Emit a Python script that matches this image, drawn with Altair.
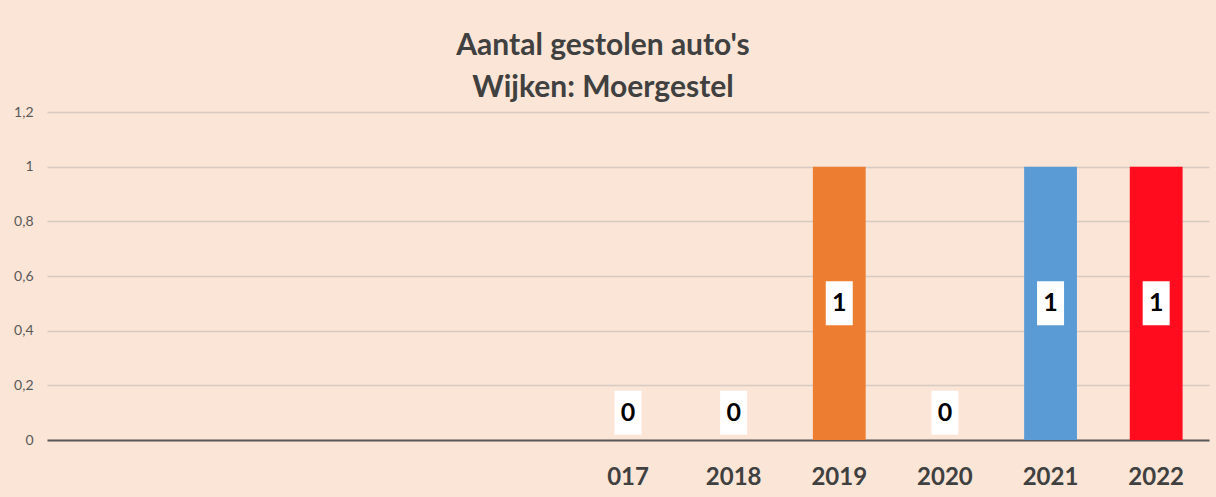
import altair as alt
import pandas as pd

years = ["2012", "2013", "2014", "2015", "2016", "2017", "2018", "2019", "2020", "2021", "2022"]
values = [None, None, None, None, None, 0, 0, 1, 0, 1, 1]
bar_colors = ["#ED7D31", "#ED7D31", "#ED7D31", "#ED7D31", "#ED7D31", "#ED7D31",
              "#ED7D31", "#ED7D31", "#5B9BD5", "#5B9BD5", "#FF0D1F"]
y_ticks = [0, 0.2, 0.4, 0.6, 0.8, 1.0, 1.2]
title_lines = ["Aantal gestolen auto's", "Wijken: Moergestel"]

df = pd.DataFrame({"jaar": years, "aantal": values})

x_enc = alt.X(
    "jaar:N",
    sort=years,
    scale=alt.Scale(domain=years, paddingInner=0.5, paddingOuter=0.25),
    axis=alt.Axis(
        title=None,
        labelExpr="datum.value == '2017' ? '017' : (toNumber(datum.value) < 2017 ? '' : datum.value)",
        labelFont="Lato",
        labelFontWeight="bold",
        labelFontSize=24,
        labelColor="#404040",
        labelPadding=25,
        labelAngle=0,
        ticks=False,
        domainColor="#595959",
        domainWidth=2,
        grid=False,
    ),
)

y_scale = alt.Scale(domain=[0, 1.2], nice=False)

base = alt.Chart(df).encode(x=x_enc)

bars = base.mark_bar().encode(
    y=alt.Y(
        "aantal:Q",
        scale=y_scale,
        axis=alt.Axis(
            title=None,
            values=y_ticks,
            labelExpr="replace(format(datum.value, '.1~f'), '.', ',')",
            labelFont="Lato",
            labelFontSize=14,
            labelColor="#595959",
            labelPadding=14,
            ticks=False,
            domain=False,
            grid=True,
            gridColor="#D6CBC2",
            gridWidth=1.5,
        ),
    ),
    color=alt.Color("jaar:N", scale=alt.Scale(domain=years, range=bar_colors), legend=None),
)

lab = base.transform_filter("isValid(datum.aantal)").transform_calculate(
    pos="datum.aantal == 0 ? 0.1 : datum.aantal / 2"
)

boxes = lab.mark_point(
    shape="M-1,-1.63L1,-1.63L1,1.63L-1,1.63Z",
    filled=True,
    fill="white",
    size=729,
    opacity=1,
    strokeWidth=0,
).encode(y=alt.Y("pos:Q", scale=y_scale))

texts = lab.mark_text(
    font="Lato", fontWeight="bold", fontSize=25, color="black", baseline="middle"
).encode(y=alt.Y("pos:Q", scale=y_scale), text=alt.Text("aantal:Q"))

chart = alt.layer(bars, boxes, texts).properties(
    width=1162,
    height=328,
    padding={"left": 47, "top": 112, "right": 7, "bottom": 57},
    autosize=alt.AutoSizeParams(type="none"),
    background="#FBE5D6",
    title=alt.Title(
        title_lines,
        font="Lato",
        fontWeight="bold",
        fontSize=30,
        color="#404040",
        lineHeight=42,
        dx=-25,
        offset=2,
    ),
).configure_view(strokeWidth=0)

chart.save("out.html", embed_options={"renderer": "svg", "actions": False})
